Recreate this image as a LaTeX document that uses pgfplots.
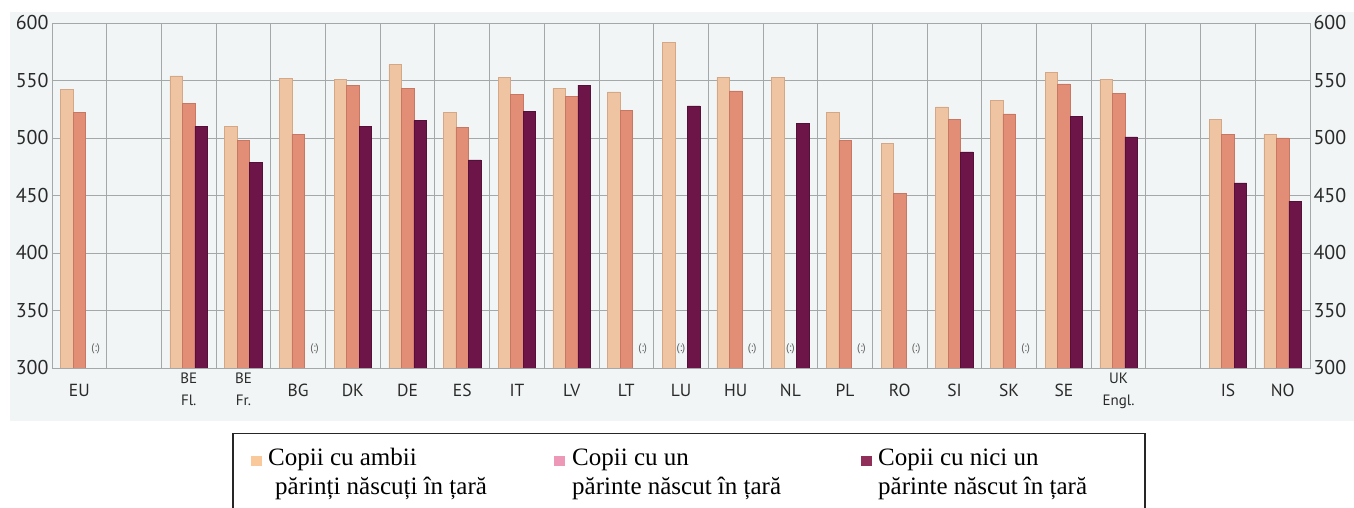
\documentclass[border=0pt]{standalone}
\usepackage{fontspec}
\setmainfont{PT Sans}
\newfontfamily\legfont{Liberation Serif}
\usepackage{pgfplots}
\usepackage{pgfplotstable}
\pgfplotsset{compat=1.18}
\usetikzlibrary{backgrounds}
\definecolor{bgc}{HTML}{F1F5F5}
\definecolor{cA}{HTML}{EEC4A2}
\definecolor{cAd}{HTML}{D4A886}
\definecolor{cB}{HTML}{E28E76}
\definecolor{cBd}{HTML}{C77762}
\definecolor{cC}{HTML}{6D1449}
\definecolor{cCd}{HTML}{55103A}
\definecolor{lA}{HTML}{F9C89B}
\definecolor{lB}{HTML}{EE98B8}
\definecolor{lC}{HTML}{8F2F5A}
\definecolor{gridc}{HTML}{A5A8A8}
\definecolor{txt}{HTML}{2A2A2A}

% slot positions: 0 EU, 2 BE Fl., 3 BE Fr., 4 BG, ... 19 UK, 21 IS, 22 NO
\pgfplotstableread{
x y
0 542
2 554
3 510
4 552
5 551
6 564
7 522
8 553
9 543
10 540
11 583
12 553
13 553
14 522
15 495
16 527
17 533
18 557
19 551
21 516
22 503
}\dataA
\pgfplotstableread{
x y
0 522
2 530
3 498
4 503
5 546
6 543
7 509
8 538
9 536
10 524
12 541
14 498
15 452
16 516
17 521
18 547
19 539
21 503
22 500
}\dataB
\pgfplotstableread{
x y
2 510
3 479
5 510
6 515
7 481
8 523
9 546
11 528
13 513
16 488
18 519
19 501
21 461
22 445
}\dataC

\newcommand{\two}[2]{\raisebox{-4pt}{\fontsize{15}{22}\selectfont\begin{tabular}{@{}c@{}}#1\\#2\end{tabular}}}
\newcommand{\nafont}{\fontsize{11}{12}\selectfont}
\newcommand{\legsize}{\legfont\fontsize{25}{29}\selectfont}

\pgfplotsset{
  common/.style={
    at={(0,0)}, anchor=south west,
    width=1258pt, height=345pt, scale only axis,
    xmin=-0.5, xmax=22.5, ymin=300, ymax=600,
    ytick={300,350,...,600},
    major tick length=0pt, minor tick length=0pt,
    yticklabel style={font=\fontsize{20}{22}\selectfont, text=txt},
    /pgf/number format/assume math mode=true,
  }
}

\begin{document}
\begin{tikzpicture}[x=1pt,y=1pt]
\begin{axis}[
  common,
  xtick={0,2,3,4,5,6,7,8,9,10,11,12,13,14,15,16,17,18,19,21,22},
  xticklabels={EU,\two{BE}{Fl.},\two{BE}{Fr.},BG,DK,DE,ES,IT,LV,LT,LU,HU,NL,PL,RO,SI,SK,SE,\two{UK}{Engl.},IS,NO},
  minor xtick={0.5,1.5,...,21.5},
  xminorgrids, ymajorgrids,
  grid style={gridc, line width=0.9pt},
  minor grid style={gridc, line width=0.9pt},
  axis line style={gridc, line width=0.9pt},
  axis background/.style={fill=bgc},
  xticklabel style={font=\fontsize{17.5}{20}\selectfont, text=txt, anchor=center, yshift=-22pt, align=center},
  ybar=0pt, bar width=12.5pt,
]
\addplot[fill=cA, draw=cAd, line width=0.5pt] table[x=x,y=y]{\dataA};
\addplot[fill=cB, draw=cBd, line width=0.5pt] table[x=x,y=y]{\dataB};
\addplot[fill=cC, draw=cCd, line width=0.5pt] table[x=x,y=y]{\dataC};
\node[font=\nafont, text=black!65] at (axis cs:0.3,317) {(:)};
\node[font=\nafont, text=black!65] at (axis cs:4.3,317) {(:)};
\node[font=\nafont, text=black!65] at (axis cs:10.3,317) {(:)};
\node[font=\nafont, text=black!65] at (axis cs:11,317) {(:)};
\node[font=\nafont, text=black!65] at (axis cs:12.3,317) {(:)};
\node[font=\nafont, text=black!65] at (axis cs:13,317) {(:)};
\node[font=\nafont, text=black!65] at (axis cs:14.3,317) {(:)};
\node[font=\nafont, text=black!65] at (axis cs:15.3,317) {(:)};
\node[font=\nafont, text=black!65] at (axis cs:17.3,317) {(:)};
\coordinate (O) at (rel axis cs:0,0);
\end{axis}
\begin{axis}[
  common,
  axis y line*=right, hide x axis,
  axis line style={draw=none},
]
\addplot[draw=none] coordinates {(0,300)};
\end{axis}
\begin{scope}[shift={(O)}, shift={(-52,-140)}]
  \begin{scope}[on background layer]
    \fill[bgc] (10,87) rectangle (1354,496);
  \end{scope}
  % legend
  \draw[line width=1.5pt, black!85] (233,-5) -- (233,74.5) -- (1145,74.5) -- (1145,-5);
  \fill[lA] (251,42) rectangle (262,52);
  \fill[lB] (554,42) rectangle (565,52);
  \fill[lC] (861,42) rectangle (872,52);
  \node[anchor=base west, inner sep=0pt, align=left, font=\legsize] at (268,13) {Copii cu ambii\\\hspace*{7pt}părinți născuți în țară};
  \node[anchor=base west, inner sep=0pt, align=left, font=\legsize] at (572,13) {Copii cu un\\părinte născut în țară};
  \node[anchor=base west, inner sep=0pt, align=left, font=\legsize] at (878,13) {Copii cu nici un\\părinte născut în țară};
  \pgfresetboundingbox
  \useasboundingbox (0,0) rectangle (1354,508);
\end{scope}
\end{tikzpicture}
\end{document}
